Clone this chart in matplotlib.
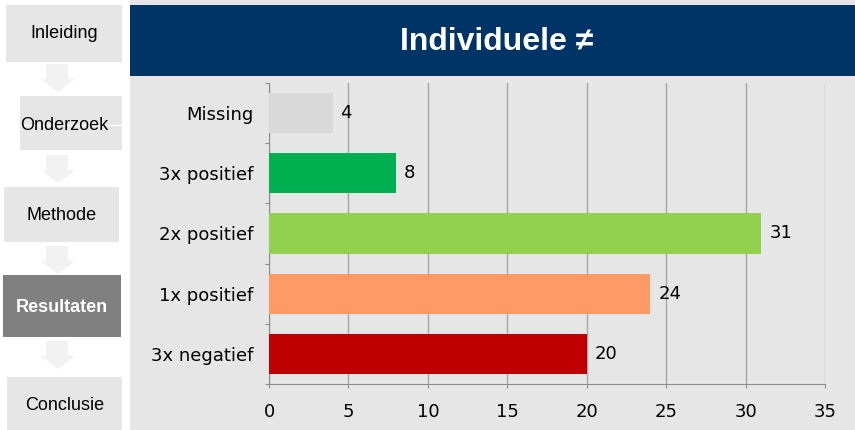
import matplotlib
matplotlib.use("Agg")
import matplotlib.pyplot as plt
from matplotlib.patches import Rectangle, Polygon

categories = ["3x negatief", "1x positief", "2x positief", "3x positief", "Missing"]
values = [20, 24, 31, 8, 4]
colors = ["#c00000", "#ff9966", "#92d050", "#00b050", "#d9d9d9"]
xticks = [0, 5, 10, 15, 20, 25, 30, 35]
title = "Individuele \u2260"
nav_items = ["Inleiding", "Onderzoek", "Methode", "Resultaten", "Conclusie"]
active = "Resultaten"

W, H = 855, 430
fig = plt.figure(figsize=(W / 100, H / 100), dpi=100)
fig.patch.set_facecolor("white")

# background canvas in pixel coords
bg = fig.add_axes([0, 0, 1, 1])
bg.set_xlim(0, W)
bg.set_ylim(H, 0)
bg.axis("off")

# main panel
bg.add_patch(Rectangle((130, 0), W - 130, H, facecolor="#e6e6e6", edgecolor="none"))
bg.add_patch(Rectangle((130, 5), W - 130, 71, facecolor="#003366", edgecolor="none"))
bg.text(497, 42, title, color="white", fontsize=23, fontweight="bold",
        family="Liberation Sans", ha="center", va="center")

# navigation boxes
boxes = [(6, 5, 116, 57, 34), (20, 96, 102, 54, 125), (4, 187, 115, 55, 216),
         (3, 275, 118, 62, 307), (7, 377, 115, 55, 406)]
for name, (x, y, w, h, ty) in zip(nav_items, boxes):
    is_act = name == active
    bg.add_patch(Rectangle((x, y), w, h, facecolor="#808080" if is_act else "#e6e6e6",
                           edgecolor="none"))
    bg.text(x + w / 2 + (0 if name != "Onderzoek" else -7), ty, name,
            color="white" if is_act else "black",
            fontweight="bold" if is_act else "normal",
            fontsize=13, family="Liberation Sans", ha="center", va="center")
# white line artifact through Onderzoek
bg.plot([20, 122], [125, 125], color="white", lw=1)

# arrows between boxes
for y0 in [64, 155, 246, 341]:
    pts = [(46, y0), (68, y0), (68, y0 + 15), (75, y0 + 15), (58, y0 + 28),
           (41, y0 + 15), (46, y0 + 15)]
    bg.add_patch(Polygon(pts, closed=True, facecolor="#f2f2f2", edgecolor="none"))

# chart axes
x0, x1 = 269, 825
y0, y1 = 83, 384
ax = fig.add_axes([x0 / W, 1 - y1 / H, (x1 - x0) / W, (y1 - y0) / H])
ax.set_facecolor("none")
ypos = list(range(len(categories)))
ax.barh(ypos, values, height=0.67, color=colors, zorder=3)
ax.set_xlim(0, 35)
ax.set_ylim(-0.5, len(categories) - 0.5)
ax.set_xticks(xticks)
ax.set_xticklabels([str(t) for t in xticks])
ax.set_yticks([y - 0.5 for y in ypos] + [len(categories) - 0.5])
ax.set_yticklabels([])
ax.set_yticks(ypos, minor=True)
ax.set_yticklabels(categories, minor=True)
ax.tick_params(axis="y", which="minor", length=0, pad=11.5, labelsize=13)
ax.tick_params(axis="y", which="major", length=3, color="#8c8c8c", direction="out")
ax.tick_params(axis="x", length=3, color="#8c8c8c", labelsize=13, pad=11)
ax.grid(axis="x", color="#a6a6a6", lw=1, zorder=0)
for s in ["top", "right"]:
    ax.spines[s].set_visible(False)
for s in ["left", "bottom"]:
    ax.spines[s].set_color("#8c8c8c")
for y, v in zip(ypos, values):
    ax.text(v + 0.5, y, str(v), va="center", ha="left", fontsize=13, zorder=4)

fig.savefig("out.png", dpi=100, facecolor=fig.get_facecolor())
